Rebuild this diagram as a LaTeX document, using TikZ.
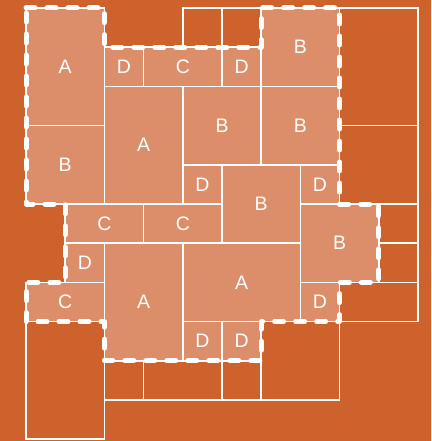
\documentclass[tikz,border=0pt]{standalone}
\usepackage{fontspec}
\setmainfont{Liberation Sans}
\definecolor{bgc}{RGB}{205,98,44}
\definecolor{cellc}{RGB}{220,142,107}
\newcommand\fullcell[6]{%
  \draw[full] (#1,#2) rectangle (#3,#4);
  \node[lbl] (#6) at ({(#1+#3)/2},{(#2+#4)/2}) {#5};}
\newcommand\emptycell[4]{\draw[empty] (#1,#2) rectangle (#3,#4);}
\begin{document}
\begin{tikzpicture}[x=39.2pt,y=-39.2pt,
  full/.style={fill=cellc,draw=white,line width=1.6pt},
  empty/.style={draw=white,line width=1.6pt},
  outline/.style={draw=white,line width=5pt,line cap=round,line join=round,dash pattern=on 9pt off 12pt},
  lbl/.style={text=white,font=\fontsize{19.5}{20}\selectfont,inner sep=0pt}]
\fill[bgc] (-0.6633,-0.2041) rectangle (10.3316,11.0459);
\useasboundingbox (-0.6633,-0.2041) rectangle (10.3316,11.0459);
% empty cells
\emptycell{4}{0}{5}{1}
\emptycell{5}{0}{6}{1}
\emptycell{8}{0}{10}{3}
\emptycell{8}{3}{10}{5}
\emptycell{9}{5}{10}{6}
\emptycell{9}{6}{10}{7}
\emptycell{8}{7}{10}{8}
\emptycell{2}{9}{3}{10}
\emptycell{3}{9}{5}{10}
\emptycell{5}{9}{6}{10}
\emptycell{6}{8}{8}{10}
\emptycell{0}{8}{2}{11}
% filled cells
\fullcell{0}{0}{2}{3}{A}{a1}
\fullcell{0}{3}{2}{5}{B}{b1}
\fullcell{2}{1}{3}{2}{D}{d1}
\fullcell{3}{1}{5}{2}{C}{c1}
\fullcell{5}{1}{6}{2}{D}{d2}
\fullcell{6}{0}{8}{2}{B}{b2}
\fullcell{2}{2}{4}{5}{A}{a2}
\fullcell{4}{2}{6}{4}{B}{b3}
\fullcell{6}{2}{8}{4}{B}{b4}
\fullcell{4}{4}{5}{5}{D}{d3}
\fullcell{5}{4}{7}{6}{B}{b5}
\fullcell{7}{4}{8}{5}{D}{d4}
\fullcell{1}{5}{3}{6}{C}{c2}
\fullcell{3}{5}{5}{6}{C}{c3}
\fullcell{7}{5}{9}{7}{B}{b6}
\fullcell{1}{6}{2}{7}{D}{d5}
\fullcell{2}{6}{4}{9}{A}{a3}
\fullcell{4}{6}{7}{8}{A}{a4}
\fullcell{0}{7}{2}{8}{C}{c4}
\fullcell{7}{7}{8}{8}{D}{d6}
\fullcell{4}{8}{5}{9}{D}{d7}
\fullcell{5}{8}{6}{9}{D}{d8}
% dashed outline
\draw[outline] (0,0) -- (2,0) -- (2,1) -- (6,1) -- (6,0) -- (8,0) -- (8,5) -- (9,5) -- (9,7) -- (8,7) -- (8,8) -- (6,8) -- (6,9) -- (2,9) -- (2,8) -- (0,8) -- (0,7) -- (1,7) -- (1,5) -- (0,5) -- cycle;
\end{tikzpicture}
\end{document}
